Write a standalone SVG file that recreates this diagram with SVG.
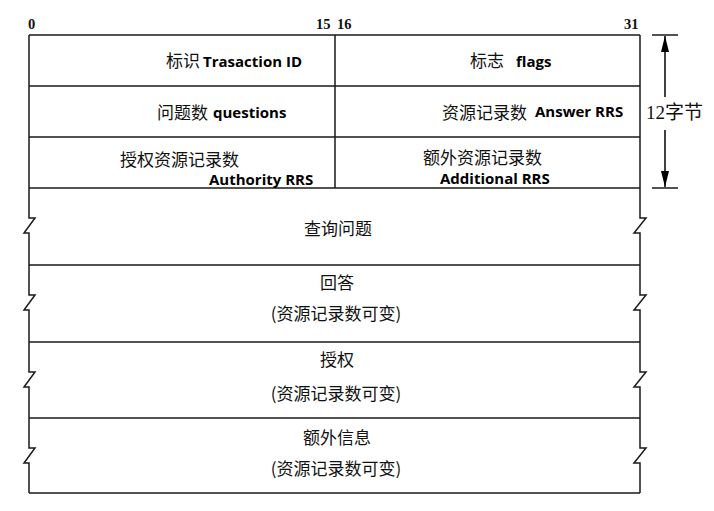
<svg xmlns="http://www.w3.org/2000/svg" width="714" height="511" viewBox="0 0 714 511">
<defs>
<style>
.ln{stroke:#1a1a1a;stroke-width:1.5;fill:none}
.cj{font-family:"Noto Sans CJK SC","Noto Sans",sans-serif;font-size:17px;fill:#111}
.en{font-family:"Open Sans","Noto Sans",sans-serif;font-size:15px;font-weight:bold;fill:#000}
.num{font-family:"Liberation Serif","DejaVu Serif",serif;font-size:14.5px;font-weight:bold;fill:#111}
.lbl{font-family:"Liberation Serif","Noto Sans CJK SC",serif;font-size:19px;fill:#111}
</style>
<marker id="ah" viewBox="0 0 16 8" refX="16" refY="4" markerWidth="16" markerHeight="8" markerUnits="userSpaceOnUse" orient="auto">
<path d="M0,0 L16,4 L0,8 Z" fill="#000"/>
</marker>
</defs>
<rect width="714" height="511" fill="#fff"/>
<g id="bit-labels">
<text class="num" x="28" y="29">0</text>
<text class="num" x="316" y="29">15</text>
<text class="num" x="337" y="29">16</text>
<text class="num" x="624" y="29">31</text>
</g>
<g id="frame">
<path class="ln" d="M29,35 H640 M29,86 H640 M29,137 H640 M29,188 H640 M29,265 H640 M29,342 H640 M29,418 H640 M29,493 H640 M335,35 V188"/>
<path class="ln" d="M29,35 V218 H35 L24,233 H29 V295 H35 L24,310 H29 V372 H35 L24,387 H29 V448 H35 L24,463 H29 V493"/>
<path class="ln" d="M640,35 V218 H646 L634,233 H640 V295 H646 L634,310 H640 V372 H646 L634,387 H640 V448 H646 L634,463 H640 V493"/>
</g>
<g id="transaction-id">
<text class="cj" x="166" y="67">标识</text>
<text class="en" x="203" y="67">Trasaction ID</text>
</g>
<g id="flags">
<text class="cj" x="470" y="67">标志</text>
<text class="en" x="516" y="67">flags</text>
</g>
<g id="questions">
<text class="cj" x="157" y="119">问题数</text>
<text class="en" x="213" y="118">questions</text>
</g>
<g id="answer-rrs">
<text class="cj" x="442" y="119">资源记录数</text>
<text class="en" x="535" y="117">Answer RRS</text>
</g>
<g id="authority-rrs">
<text class="cj" x="120" y="166">授权资源记录数</text>
<text class="en" x="209" y="185">Authority RRS</text>
</g>
<g id="additional-rrs">
<text class="cj" x="423" y="164">额外资源记录数</text>
<text class="en" x="440" y="184">Additional RRS</text>
</g>
<g id="queries">
<text class="cj" x="338" y="235" text-anchor="middle">查询问题</text>
</g>
<g id="answers">
<text class="cj" x="337" y="289" text-anchor="middle">回答</text>
<text class="cj" x="336" y="320" text-anchor="middle">(资源记录数可变)</text>
</g>
<g id="authority">
<text class="cj" x="337" y="366" text-anchor="middle">授权</text>
<text class="cj" x="336" y="400" text-anchor="middle">(资源记录数可变)</text>
</g>
<g id="additional">
<text class="cj" x="337" y="444" text-anchor="middle">额外信息</text>
<text class="cj" x="336" y="475" text-anchor="middle">(资源记录数可变)</text>
</g>
<g id="connectors">
<path class="ln" d="M652,35 H678 M652,188 H678"/>
<line x1="665" y1="97" x2="665" y2="36" stroke="#000" stroke-width="1.5" marker-end="url(#ah)"/>
<line x1="665" y1="130" x2="665" y2="187" stroke="#000" stroke-width="1.5" marker-end="url(#ah)"/>
</g>
<g id="size-label">
<text class="lbl" x="646" y="119">12字节</text>
</g>
</svg>
